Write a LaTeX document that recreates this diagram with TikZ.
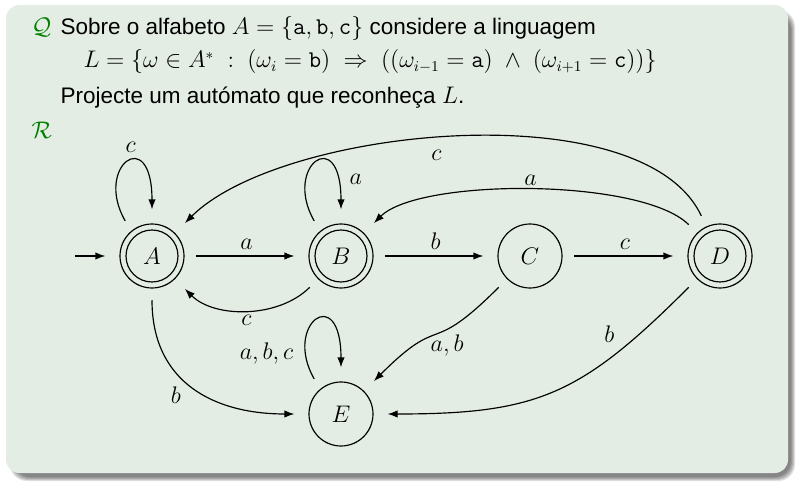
\documentclass[tikz,border=0pt]{standalone}
\usepackage[no-math]{fontspec}
\setmainfont{Liberation Sans}
\usetikzlibrary{arrows.meta,positioning}

\definecolor{blockbg}{RGB}{228,237,228}
\definecolor{blockfg}{RGB}{0,128,0}

\tikzset{
  st/.style={circle, draw, minimum size=38.4pt, inner sep=0pt},
  acc/.style={st, path picture={\draw (path picture bounding box.center) circle (15.6pt);}},
  tr/.style={->, shorten <=7pt, shorten >=8.4pt},
  txt/.style={anchor=base west, inner sep=0pt},
}

\begin{document}
\begin{tikzpicture}[x=0.6pt, y=0.6pt, line width=0.7pt, >={Latex[length=6pt,width=4.4pt]},
  font=\fontsize{13.5}{16}\selectfont]
  \useasboundingbox (0,0) rectangle (797,-487);
  % block with shadow
  \foreach \d in {0,...,4} {
    \fill[black, opacity=0.12, rounded corners=10] (14-\d,-14+\d) rectangle (791+\d,-477-\d);
  }
  \fill[blockbg, rounded corners=8] (6,-5) rectangle (788,-473);

  % question
  \node[txt, text=blockfg] (q) at (31,-35) {$\mathcal{Q}$};
  \node[txt] (enun) at (60,-35) {Sobre o alfabeto $A=\{\mathtt{a},\mathtt{b},\mathtt{c}\}$ considere a linguagem};
  \node[txt] (lang) at (83,-68) {$L=\{\omega\in A^*\;:\;(\omega_i=\mathtt{b})\;\Rightarrow\;((\omega_{i-1}=\mathtt{a})\;\wedge\;(\omega_{i+1}=\mathtt{c}))\}$};
  \node[txt] (proj) at (60,-103) {Projecte um autómato que reconheça $L$.};
  \node[txt, text=blockfg] (r) at (31,-139) {$\mathcal{R}$};

  % states
  \node[acc] (A) at (152,-256) {$A$};
  \node[acc] (B) at (341,-256) {$B$};
  \node[st]  (C) at (530,-256) {$C$};
  \node[acc] (D) at (720,-256) {$D$};
  \node[st]  (E) at (341,-414) {$E$};
  \coordinate (init) at (75,-256);

  % transitions
  \draw[tr, shorten <=0pt] (init) -- (A);
  \draw[tr] (A) -- node[above] (lAB) {$a$} (B);
  \draw[tr] (B) -- node[above] (lBC) {$b$} (C);
  \draw[tr] (C) -- node[above] (lCD) {$c$} (D);
  \draw[tr] (B) to[bend left=45] node[below] (lBA) {$c$} (A);
  \draw[tr] (D) to[out=115,in=45,looseness=0.72] node[pos=0.53,below=2pt] (lDA) {$c$} (A);
  \draw[tr] (D) to[out=135,in=45,looseness=0.6] node[pos=0.5,above] (lDB) {$a$} (B);
  \draw[tr] (C) to[out=225,in=45,looseness=1.6] node[pos=0.38,below] (lCE) {$a,b$} (E);
  \draw[tr] (D) to[out=225,in=0,looseness=1.2] node[pos=0.25,above left] (lDE) {$b$} (E);
  \draw[tr] (A) to[out=270,in=180,looseness=1.2] node[pos=0.45,below left] (lAE) {$b$} (E);
  % loops
  \draw[tr] (A.130) .. controls +(120:75) and +(90:100) .. node[pos=0.55,above=3pt] (lAA) {$c$} (A.90);
  \draw[tr] (B.130) .. controls +(120:75) and +(90:100) .. node[pos=0.8,right=5pt] (lBB) {$a$} (B.90);
  \draw[tr] (E.130) .. controls +(120:75) and +(90:100) .. node[pos=0.2,left,xshift=-5pt] (lEE) {$a,b,c$} (E.90);
\end{tikzpicture}
\end{document}
